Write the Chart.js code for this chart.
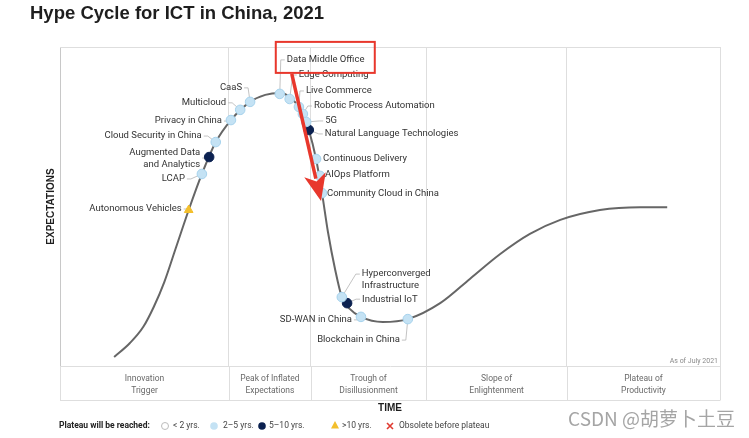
<!DOCTYPE html>
<html>
<head>
<meta charset="utf-8">
<script src="https://cdn.jsdelivr.net/npm/chart.js@4.4.0/dist/chart.umd.min.js"></script>
<style>
  html, body { margin: 0; padding: 0; background: #fff; }
</style>
</head>
<body>
<canvas id="hypeChart" width="749" height="438"></canvas>
<script>
'use strict';

// hype curve (time 0-100, expectations 0-100)
const curveTime = [8.2, 10.6, 12.6, 14.2, 15.8, 17.6, 19.5, 21.5, 23.6, 25.9, 28.8, 31.1, 33.3, 35.0, 36.8, 37.7, 38.8, 39.7, 40.6, 41.7, 42.7, 43.9, 45.6, 48.9, 52.7, 57.6, 62.1, 66.7, 71.2, 75.8, 81.8, 87.9, 92.0];
const curveExpect = [2.8, 7.2, 12.2, 18.5, 26.3, 37.3, 48.9, 60.2, 70.2, 77.1, 82.8, 85.0, 85.6, 84.0, 79.0, 74.0, 64.9, 54.2, 42.0, 30.1, 21.6, 17.9, 15.4, 13.8, 14.7, 19.7, 27.3, 35.1, 41.4, 45.8, 48.9, 49.8, 49.8];

// technologies on the curve
const techNames = ['Autonomous Vehicles', 'LCAP', 'Augmented Data\nand Analytics', 'Cloud Security in China',
  'Privacy in China', 'Multicloud', 'CaaS', 'Data Middle Office', 'Edge Computing', 'Live Commerce',
  'Robotic Process Automation', '5G', 'Natural Language Technologies', 'Continuous Delivery',
  'AIOps Platform', 'Community Cloud in China', 'Hyperconverged\nInfrastructure', 'Industrial IoT',
  'SD-WAN in China', 'Blockchain in China'];
const techTime = [19.5, 21.5, 22.6, 23.6, 25.9, 27.3, 28.8, 33.3, 34.8, 36.2, 36.8, 37.3, 37.7, 38.8, 39.4, 39.7, 42.7, 43.5, 45.6, 52.7];
const techExpect = [48.9, 60.2, 65.5, 70.2, 77.1, 80.3, 82.8, 85.3, 83.7, 81.2, 79.0, 76.5, 74.0, 64.9, 59.6, 54.2, 21.6, 19.7, 15.4, 14.7];
// years to plateau: '2-5', '5-10', '>10'
const techPlateau = ['>10', '2-5', '5-10', '2-5', '2-5', '2-5', '2-5', '2-5', '2-5', '2-5', '2-5', '2-5', '5-10', '2-5', '2-5', '2-5', '2-5', '5-10', '2-5', '2-5'];

const phaseEdges = [0, 25.6, 38.0, 55.5, 76.8, 100];
const phaseNames = [['Innovation', 'Trigger'], ['Peak of Inflated', 'Expectations'], ['Trough of', 'Disillusionment'], ['Slope of', 'Enlightenment'], ['Plateau of', 'Productivity']];

const legendNames = ['< 2 yrs.', '2\u20135 yrs.', '5\u201310 yrs.', '>10 yrs.', 'Obsolete before plateau'];

// label placement next to each point, in pixels: dx, dy, side
const labelPlace = [[-7, -1, 'right'], [-17, 5, 'right'], [-9, -4, 'right'], [-14, -6, 'right'],
  [-9, 1, 'right'], [-14, -7, 'right'], [-8, -14, 'right'], [7, -34, 'left'], [9, -24, 'left'],
  [7, -16, 'left'], [11, -8, 'left'], [19, -1, 'left'], [16, 4, 'left'], [7, 0, 'left'],
  [5, -1, 'left'], [5, 1, 'left'], [20, -23, 'left'], [15, -4, 'left'], [-9, 3, 'right'], [-8, 21, 'right']];

const lightBlue = '#c4e2f4';
const navy = '#0b2150';
const yellow = '#f3bf2c';

function groupPoints(group) {
  const pts = [];
  for (let i = 0; i < techNames.length; i++) {
    if (techPlateau[i] === group) {
      pts.push({x: techTime[i], y: techExpect[i]});
    }
  }
  return pts;
}

const tickVals = [];
for (let i = 0; i < phaseEdges.length; i++) {
  tickVals.push(phaseEdges[i]);
  if (i < phaseNames.length) {
    tickVals.push((phaseEdges[i] + phaseEdges[i + 1]) / 2);
  }
}

const decorPlugin = {
  id: 'decor',
  beforeDatasetsDraw(chart) {
    const ctx = chart.ctx;
    const xs = chart.scales.x;
    const ys = chart.scales.y;
    ctx.save();
    ctx.strokeStyle = '#b4b4b4';
    ctx.lineWidth = 0.8;
    for (let i = 0; i < techNames.length; i++) {
      const px = xs.getPixelForValue(techTime[i]);
      const py = ys.getPixelForValue(techExpect[i]);
      const p = labelPlace[i];
      const two = techNames[i].includes('\n');
      const dir = p[2] === 'left' ? -1 : 1;
      const ax = px + p[0] + dir * 2;
      const ay = py + p[1] + (two && p[2] === 'right' ? 5 : 0);
      ctx.beginPath();
      ctx.moveTo(ax, ay);
      ctx.lineTo(ax + dir * 4, ay);
      ctx.lineTo(px, py);
      ctx.stroke();
    }
    ctx.restore();
  },
  afterDatasetsDraw(chart) {
    const ctx = chart.ctx;
    const xs = chart.scales.x;
    const ys = chart.scales.y;
    const area = chart.chartArea;
    ctx.save();

    // frame: top line and the phase row under the plot
    ctx.strokeStyle = '#dedede';
    ctx.lineWidth = 1;
    ctx.beginPath();
    ctx.moveTo(area.left, area.top + 0.5);
    ctx.lineTo(area.right, area.top + 0.5);
    ctx.moveTo(area.left, area.bottom + 34.5);
    ctx.lineTo(area.right, area.bottom + 34.5);
    for (let edge of phaseEdges) {
      const ex = Math.round(xs.getPixelForValue(edge)) + 0.5;
      ctx.moveTo(ex, area.bottom);
      ctx.lineTo(ex, area.bottom + 34.5);
    }
    ctx.stroke();

    ctx.fillStyle = '#8a8a8a';
    ctx.font = '7px Roboto';
    ctx.textAlign = 'right';
    ctx.textBaseline = 'middle';
    ctx.fillText('As of July 2021', area.right - 2, area.bottom - 5);

    // technology labels
    ctx.fillStyle = '#333';
    ctx.font = '9.5px Roboto';
    for (let i = 0; i < techNames.length; i++) {
      const px = xs.getPixelForValue(techTime[i]);
      const py = ys.getPixelForValue(techExpect[i]);
      const p = labelPlace[i];
      ctx.textAlign = p[2];
      const lines = techNames[i].split('\n');
      lines.forEach((line, k) => {
        ctx.fillText(line, px + p[0], py + p[1] + k * 11.5);
      });
    }
    ctx.restore();
  },
  afterDraw(chart) {
    const ctx = chart.ctx;
    const xs = chart.scales.x;
    const ys = chart.scales.y;
    ctx.save();

    // red note box round "Data Middle Office" and arrow down the slope
    const dmo = 7;
    const cc = 15;
    const bx = xs.getPixelForValue(techTime[dmo]) - 4;
    const by = ys.getPixelForValue(techExpect[dmo]) - 52;
    ctx.strokeStyle = '#e8372c';
    ctx.lineWidth = 2;
    ctx.strokeRect(bx, by, 99, 31);

    const sx = bx + 16;
    const sy = by + 32;
    const tx = xs.getPixelForValue(techTime[cc]) - 1;
    const ty = ys.getPixelForValue(techExpect[cc]) + 8;
    const ang = Math.atan2(ty - sy, tx - sx);
    const headLen = 27;
    const headHalf = 11;
    const baseX = tx - Math.cos(ang) * headLen;
    const baseY = ty - Math.sin(ang) * headLen;
    ctx.strokeStyle = '#e8372c';
    ctx.lineWidth = 3.5;
    ctx.beginPath();
    ctx.moveTo(sx, sy);
    ctx.lineTo(baseX + Math.cos(ang) * 4, baseY + Math.sin(ang) * 4);
    ctx.stroke();
    ctx.fillStyle = '#e8372c';
    ctx.beginPath();
    ctx.moveTo(tx, ty);
    ctx.lineTo(baseX - Math.sin(ang) * headHalf, baseY + Math.cos(ang) * headHalf);
    ctx.lineTo(baseX + Math.cos(ang) * 7, baseY + Math.sin(ang) * 7);
    ctx.lineTo(baseX + Math.sin(ang) * headHalf, baseY - Math.cos(ang) * headHalf);
    ctx.closePath();
    ctx.fill();

    // legend
    const ly = 426;
    ctx.textBaseline = 'middle';
    ctx.textAlign = 'left';
    ctx.fillStyle = '#222';
    ctx.font = 'bold 8.5px Roboto';
    ctx.fillText('Plateau will be reached:', 59, ly);
    ctx.font = '8.5px Roboto';
    const symX = [165, 214, 262, 335, 390];
    const txtX = [173, 223, 269, 342, 399];
    for (let i = 0; i < legendNames.length; i++) {
      const cx = symX[i];
      ctx.lineWidth = 1;
      if (i === 0) {
        ctx.fillStyle = '#fff';
        ctx.strokeStyle = '#bbb';
        ctx.beginPath();
        ctx.arc(cx, ly, 3.5, 0, Math.PI * 2);
        ctx.fill();
        ctx.stroke();
      } else if (i === 1 || i === 2) {
        ctx.fillStyle = i === 1 ? lightBlue : navy;
        ctx.beginPath();
        ctx.arc(cx, ly, 3.8, 0, Math.PI * 2);
        ctx.fill();
      } else if (i === 3) {
        ctx.fillStyle = yellow;
        ctx.beginPath();
        ctx.moveTo(cx, ly - 5);
        ctx.lineTo(cx + 4, ly + 2.5);
        ctx.lineTo(cx - 4, ly + 2.5);
        ctx.closePath();
        ctx.fill();
      } else {
        ctx.strokeStyle = '#e03a30';
        ctx.lineWidth = 1.6;
        ctx.beginPath();
        ctx.moveTo(cx - 3, ly - 3);
        ctx.lineTo(cx + 3, ly + 3);
        ctx.moveTo(cx + 3, ly - 3);
        ctx.lineTo(cx - 3, ly + 3);
        ctx.stroke();
      }
      ctx.fillStyle = '#444';
      ctx.fillText(legendNames[i], txtX[i], ly);
    }

    // watermark
    ctx.fillStyle = '#a5a5a5';
    ctx.font = '19px "Noto Sans CJK SC"';
    ctx.textAlign = 'right';
    ctx.fillText('CSDN @胡萝卜土豆', 735, 419);
    ctx.restore();
  }
};

const ctx = document.getElementById('hypeChart').getContext('2d');
const hypeChart = new Chart(ctx, {
  type: 'scatter',
  data: {
    datasets: [
      {
        label: 'curve',
        data: curveTime.map((t, i) => ({x: t, y: curveExpect[i]})),
        showLine: true,
        cubicInterpolationMode: 'monotone',
        borderColor: '#666',
        borderWidth: 2,
        pointRadius: 0,
        order: 3
      },
      {
        label: '2-5 yrs',
        data: groupPoints('2-5'),
        backgroundColor: lightBlue,
        borderColor: '#a6d2ec',
        borderWidth: 1,
        pointRadius: 4.8,
        order: 1
      },
      {
        label: '5-10 yrs',
        data: groupPoints('5-10'),
        backgroundColor: navy,
        borderColor: navy,
        pointRadius: 4.8,
        order: 1
      },
      {
        label: '>10 yrs',
        data: groupPoints('>10'),
        backgroundColor: yellow,
        borderColor: yellow,
        pointStyle: 'triangle',
        pointRadius: 5,
        order: 1
      }
    ]
  },
  options: {
    responsive: false,
    animation: false,
    devicePixelRatio: 1,
    layout: { padding: { left: 30, right: 29, top: 0, bottom: 0 } },
    plugins: {
      legend: { display: false },
      tooltip: { enabled: false },
      title: {
        display: true,
        text: 'Hype Cycle for ICT in China, 2021',
        align: 'start',
        color: '#1e1e1e',
        font: { family: 'Liberation Sans', size: 18.5, weight: 'bold' },
        padding: { top: 3, bottom: 21.8 }
      }
    },
    scales: {
      x: {
        type: 'linear',
        min: 0,
        max: 100,
        afterBuildTicks: (scale) => { scale.ticks = tickVals.map(v => ({value: v})); },
        afterFit: (scale) => { scale.height = 72; },
        grid: {
          drawTicks: false,
          color: (c) => (c.index % 2 === 0 ? '#dedede' : 'rgba(0,0,0,0)')
        },
        border: { color: '#dedede' },
        ticks: {
          autoSkip: false,
          maxRotation: 0,
          padding: 6,
          color: '#6a6a6a',
          font: { family: 'Roboto', size: 8.5, lineHeight: 1.5 },
          callback: (v, i) => (i % 2 === 1 ? phaseNames[(i - 1) / 2] : '')
        },
        title: {
          display: true,
          text: 'TIME',
          color: '#1e1e1e',
          font: { family: 'Liberation Sans', size: 10, weight: 'bold' },
          padding: { top: 0, bottom: 24 }
        }
      },
      y: {
        min: 0,
        max: 100,
        afterFit: (scale) => { scale.width = 30; },
        grid: { display: false, drawTicks: false },
        border: { color: '#c8c8c8' },
        ticks: { display: false },
        title: {
          display: true,
          text: 'EXPECTATIONS',
          color: '#1e1e1e',
          font: { family: 'Liberation Sans', size: 10, weight: 'bold' },
          padding: { top: 15, bottom: 0 }
        }
      }
    }
  },
  plugins: [decorPlugin]
});
</script>
</body>
</html>
